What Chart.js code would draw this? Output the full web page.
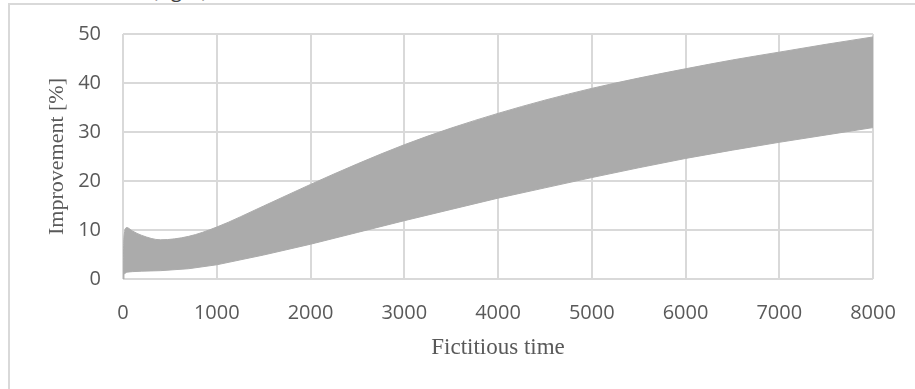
<!DOCTYPE html>
<html>
<head>
<meta charset="utf-8">
<script src="https://cdn.jsdelivr.net/npm/chart.js@4.4.1/dist/chart.umd.min.js"></script>
<style>
  html, body { margin: 0; padding: 0; background: #fff; overflow: hidden; }
  #frame {
    position: absolute; left: 8px; top: 3px; width: 1000px; height: 1000px;
    border: 2px solid #d9d9d9;
  }
  #cut {
    position: absolute; left: 152px; top: -24px;
    font: 20px "Open Sans", sans-serif; color: #404040;
  }
  #wrap { position: absolute; left: 0; top: 0; width: 915px; height: 389px; }
</style>
</head>
<body>
<div id="frame"></div>
<div id="cut">(right)</div>
<div id="wrap"><canvas id="chartImp"></canvas></div>
<script>
// fictitious time samples and envelope of the improvement band
const timeX = [0, 10, 40, 100, 200, 400, 700, 1000, 1500, 2000, 2500, 3000, 3500, 4000, 4500, 5000, 5500, 6000, 6500, 7000, 7500, 8000];
const upperImp = [0, 8.5, 10.5, 9.8, 8.9, 8.0, 8.7, 10.6, 14.9, 19.3, 23.5, 27.4, 30.8, 33.8, 36.5, 38.9, 41.0, 42.9, 44.7, 46.3, 47.9, 49.4];
const lowerImp = [0, 1.0, 1.4, 1.5, 1.6, 1.7, 2.1, 2.9, 4.9, 7.1, 9.5, 11.9, 14.2, 16.5, 18.6, 20.7, 22.7, 24.6, 26.3, 27.9, 29.4, 30.9];
const yTicks = [0, 10, 20, 30, 40, 50];
const xTicks = [0, 1000, 2000, 3000, 4000, 5000, 6000, 7000, 8000];

function toPoints(xs, ys) {
  let pts = [];
  for (let i = 0; i < xs.length; i++) pts.push({ x: xs[i], y: ys[i] });
  return pts;
}

const gray = "#ababab";
const ctx = document.getElementById("chartImp").getContext("2d");
const chartImp = new Chart(ctx, {
  type: "line",
  data: {
    datasets: [
      {
        label: "lower",
        data: toPoints(timeX, lowerImp),
        borderColor: gray,
        borderWidth: 1,
        pointRadius: 0,
        fill: false,
      },
      {
        label: "upper",
        data: toPoints(timeX, upperImp),
        borderColor: gray,
        backgroundColor: gray,
        borderWidth: 1,
        pointRadius: 0,
        fill: "-1",
        cubicInterpolationMode: "monotone",
      },
    ],
  },
  options: {
    responsive: true,
    maintainAspectRatio: false,
    animation: false,
    layout: { padding: { left: 0, top: 32, right: 42, bottom: 0 } },
    plugins: { legend: { display: false }, tooltip: { enabled: false } },
    scales: {
      x: {
        type: "linear",
        min: 0,
        max: 8000,
        afterBuildTicks: function (scale) {
          scale.ticks = xTicks.map((v) => ({ value: v }));
        },
        afterFit: function (scale) {
          scale.height = 110;
          scale.paddingLeft = 0;
          scale.paddingRight = 0;
        },
        ticks: {
          color: "#595959",
          font: { family: "Open Sans", size: 20 },
          padding: 22,
          maxRotation: 0,
          callback: (v) => String(v),
        },
        grid: { color: "#d9d9d9", lineWidth: 2, drawTicks: false },
        border: { display: false },
        title: {
          display: true,
          text: "Fictitious time",
          color: "#595959",
          font: { family: "Liberation Serif", size: 23 },
          padding: { top: 0, bottom: 27 },
        },
      },
      y: {
        min: 0,
        max: 50,
        afterBuildTicks: function (scale) {
          scale.ticks = yTicks.map((v) => ({ value: v }));
        },
        afterFit: function (scale) {
          scale.width = 123;
        },
        ticks: {
          color: "#595959",
          font: { family: "Open Sans", size: 20 },
          padding: 22,
          callback: (v) => String(v),
        },
        grid: { color: "#d9d9d9", lineWidth: 2, drawTicks: false },
        border: { display: false },
        title: {
          display: true,
          text: "Improvement [%]",
          color: "#595959",
          font: { family: "Liberation Serif", size: 22 },
          padding: { top: 44, bottom: 0 },
        },
      },
    },
  },
});
</script>
</body>
</html>
